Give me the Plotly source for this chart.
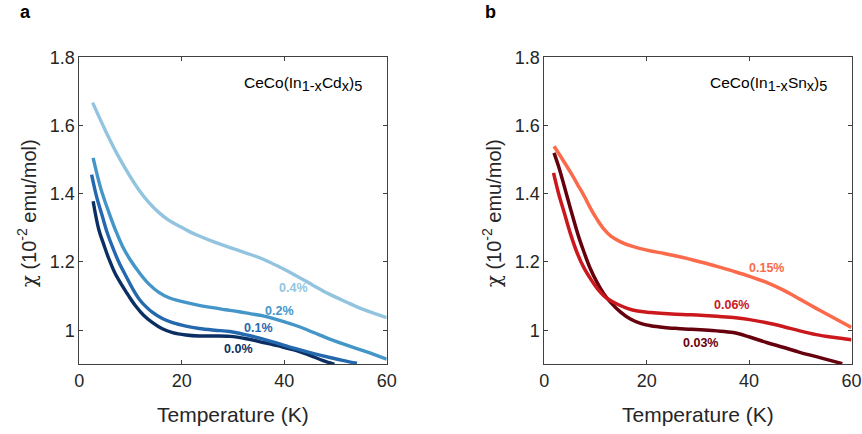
import plotly.graph_objects as go

# ---------------- data ----------------
# Panel a: CeCo(In1-xCdx)5
cd00_T = [2.7, 3.8, 4.8, 5.8, 7.0, 8.4, 9.7, 11.0, 12.6, 14.3, 16.2, 18.2, 20.8, 23.4, 26.4, 29.4, 32.6, 35.9, 39.1, 42.4, 45.0, 47.6, 49.8]
cd00_chi = [1.378, 1.295, 1.250, 1.208, 1.166, 1.130, 1.099, 1.071, 1.043, 1.022, 1.004, 0.993, 0.986, 0.983, 0.983, 0.982, 0.975, 0.964, 0.953, 0.940, 0.926, 0.911, 0.900]
cd01_T = [2.4, 3.4, 4.5, 5.4, 6.4, 7.7, 9.1, 10.4, 11.7, 13.0, 14.3, 16.2, 18.2, 20.8, 23.4, 26.4, 29.4, 32.6, 35.9, 39.1, 42.4, 45.6, 48.9, 51.6, 54.2]
cd01_chi = [1.456, 1.390, 1.334, 1.288, 1.247, 1.200, 1.159, 1.122, 1.091, 1.069, 1.052, 1.034, 1.022, 1.012, 1.005, 1.000, 0.996, 0.986, 0.974, 0.960, 0.945, 0.932, 0.920, 0.911, 0.903]
cd02_T = [2.7, 4.2, 5.8, 7.1, 8.4, 10.0, 11.7, 13.6, 15.6, 17.5, 19.5, 22.7, 26.0, 28.6, 31.2, 33.5, 35.9, 39.1, 42.4, 45.6, 48.9, 52.2, 55.4, 58.0, 60.0]
cd02_chi = [1.505, 1.415, 1.344, 1.292, 1.247, 1.205, 1.169, 1.135, 1.110, 1.095, 1.086, 1.075, 1.066, 1.060, 1.054, 1.048, 1.042, 1.029, 1.013, 0.994, 0.974, 0.956, 0.940, 0.926, 0.915]
cd04_T = [2.6, 5.2, 7.8, 9.7, 11.6, 13.6, 15.6, 17.5, 19.5, 21.5, 23.4, 26.4, 29.4, 32.6, 35.9, 39.1, 42.4, 45.6, 48.9, 52.2, 55.4, 58.0, 60.0]
cd04_chi = [1.667, 1.582, 1.505, 1.456, 1.412, 1.374, 1.344, 1.322, 1.305, 1.289, 1.276, 1.258, 1.242, 1.226, 1.208, 1.185, 1.159, 1.132, 1.105, 1.082, 1.061, 1.047, 1.037]

# Panel b: CeCo(In1-xSnx)5
sn003_T = [1.9, 2.9, 3.9, 4.9, 5.9, 6.8, 7.8, 9.0, 10.3, 11.6, 13.0, 14.9, 16.9, 18.8, 20.8, 23.4, 26.0, 28.2, 30.5, 33.7, 36.9, 40.1, 43.4, 46.6, 49.9, 54.0, 58.2]
sn003_chi = [1.520, 1.475, 1.422, 1.368, 1.315, 1.270, 1.227, 1.180, 1.140, 1.107, 1.081, 1.053, 1.032, 1.020, 1.013, 1.008, 1.005, 1.003, 1.001, 0.998, 0.993, 0.980, 0.964, 0.950, 0.935, 0.919, 0.902]
sn006_T = [1.8, 2.8, 3.9, 5.1, 6.4, 7.7, 9.1, 10.4, 11.7, 13.0, 14.3, 16.2, 18.2, 20.8, 23.4, 27.0, 30.5, 33.7, 36.9, 40.1, 43.4, 46.6, 49.9, 53.1, 56.4, 60.0]
sn006_chi = [1.461, 1.400, 1.344, 1.283, 1.227, 1.184, 1.149, 1.121, 1.100, 1.086, 1.076, 1.064, 1.056, 1.052, 1.049, 1.046, 1.044, 1.041, 1.037, 1.031, 1.022, 1.011, 0.998, 0.987, 0.979, 0.972]
sn015_T = [1.9, 3.5, 5.2, 6.5, 7.8, 9.0, 10.3, 11.6, 13.0, 14.9, 16.9, 18.8, 20.8, 23.4, 26.0, 28.2, 30.5, 33.7, 36.9, 40.1, 43.4, 46.6, 49.9, 53.1, 56.4, 60.0]
sn015_chi = [1.539, 1.502, 1.461, 1.427, 1.393, 1.358, 1.325, 1.297, 1.276, 1.259, 1.247, 1.239, 1.232, 1.225, 1.217, 1.209, 1.200, 1.187, 1.173, 1.158, 1.140, 1.118, 1.091, 1.064, 1.037, 1.008]

x_ticks = [0, 20, 40, 60]
y_ticks = [1.0, 1.2, 1.4, 1.6, 1.8]
y_tick_labels = ["1", "1.2", "1.4", "1.6", "1.8"]

cd_labels = ["0.0%", "0.1%", "0.2%", "0.4%"]
cd_label_T = [31.0, 34.9, 39.1, 41.8]
cd_label_chi = [0.944, 1.005, 1.056, 1.125]
sn_labels = ["0.03%", "0.06%", "0.15%"]
sn_label_T = [30.5, 36.6, 43.4]
sn_label_chi = [0.962, 1.073, 1.183]

cd_colors = ["#0b2f63", "#2468ae", "#4596c8", "#92c4e0"]
sn_colors = ["#67000d", "#cb181d", "#fb6a4a"]

# ---------------- figure ----------------
fig = go.Figure()
FONT = "Liberation Sans, Arial, Helvetica, sans-serif"
TXT = "#262626"

cd_series = [(cd00_T, cd00_chi), (cd01_T, cd01_chi), (cd02_T, cd02_chi), (cd04_T, cd04_chi)]
for (t, c), col in zip(cd_series, cd_colors):
    fig.add_trace(go.Scatter(x=t, y=c, mode="lines", line=dict(color=col, width=3.4, shape="spline", smoothing=1.0),
                             xaxis="x", yaxis="y", showlegend=False, hoverinfo="skip"))
sn_series = [(sn003_T, sn003_chi), (sn006_T, sn006_chi), (sn015_T, sn015_chi)]
for (t, c), col in zip(sn_series, sn_colors):
    fig.add_trace(go.Scatter(x=t, y=c, mode="lines", line=dict(color=col, width=3.5, shape="spline", smoothing=1.0),
                             xaxis="x2", yaxis="y2", showlegend=False, hoverinfo="skip"))

ax_common = dict(showline=True, linecolor="#404040", linewidth=1, mirror="ticks", ticks="inside",
                 ticklen=4, tickcolor="#404040", showgrid=False, zeroline=False, automargin=False,
                 tickfont=dict(family=FONT, size=18, color=TXT))
xa = dict(ax_common, range=[0, 60], tickvals=x_ticks)
ya = dict(ax_common, range=[0.9, 1.8], tickvals=y_ticks, ticktext=y_tick_labels)

y_dom = [1 - 364.3 / 434, 1 - 57.3 / 434]
fig.update_layout(
    width=862, height=434,
    margin=dict(l=0, r=0, t=0, b=0, autoexpand=False),
    paper_bgcolor="white", plot_bgcolor="white",
    xaxis=dict(xa, domain=[79.3 / 862, 386.7 / 862], anchor="y"),
    yaxis=dict(ya, domain=y_dom, anchor="x"),
    xaxis2=dict(xa, domain=[544.3 / 862, 851.5 / 862], anchor="y2"),
    yaxis2=dict(ya, domain=y_dom, anchor="x2"),
)

ann = []
for lab, t, c, col in zip(cd_labels, cd_label_T, cd_label_chi, cd_colors):
    ann.append(dict(x=t, y=c, xref="x", yref="y", text="<b>%s</b>" % lab, showarrow=False,
                    xanchor="center", yanchor="middle", font=dict(family=FONT, size=12.5, color=col)))
for lab, t, c, col in zip(sn_labels, sn_label_T, sn_label_chi, sn_colors):
    ann.append(dict(x=t, y=c, xref="x2", yref="y2", text="<b>%s</b>" % lab, showarrow=False,
                    xanchor="center", yanchor="middle", font=dict(family=FONT, size=12.5, color=col)))

SUB = "<sub><span style=\"font-size:14.5px\">%s</span></sub>"
ann.append(dict(x=55.6, y=1.722, xref="x", yref="y", xanchor="right", yanchor="middle",
                text="CeCo(In" + SUB % "1-x" + "Cd" + SUB % "x" + ")" + SUB % "5",
                showarrow=False, font=dict(family=FONT, size=15.5, color="black")))
ann.append(dict(x=55.6, y=1.722, xref="x2", yref="y2", xanchor="right", yanchor="middle",
                text="CeCo(In" + SUB % "1-x" + "Sn" + SUB % "x" + ")" + SUB % "5",
                showarrow=False, font=dict(family=FONT, size=15.5, color="black")))

for x0, x1, letter, lx in [(79.3, 386.7, "a", 25), (544.3, 852, "b", 490)]:
    ann.append(dict(x=(x0 + x1) / 2 / 862, y=1 - 414 / 434, xref="paper", yref="paper",
                    xanchor="center", yanchor="middle",
                    text="Temperature (K)", showarrow=False,
                    font=dict(family=FONT, size=21, color=TXT)))
    ann.append(dict(x=(x0 - 52) / 862, y=1 - 213 / 434, xref="paper", yref="paper", textangle=-90,
                    xanchor="center", yanchor="middle",
                    text="<span style=\"font-family:'DejaVu Serif', serif\">χ</span> (10<sup>-2</sup> emu/mol)",
                    showarrow=False, font=dict(family=FONT, size=20, color=TXT)))
    ann.append(dict(x=lx / 862, y=1 - 12 / 434, xref="paper", yref="paper", text="<b>%s</b>" % letter,
                    xanchor="center", yanchor="middle",
                    showarrow=False, font=dict(family=FONT, size=18, color="black")))

fig.update_layout(annotations=ann)
fig.write_html("out.html", post_script="document.body.style.margin='0';",
               config={"displayModeBar": False})
